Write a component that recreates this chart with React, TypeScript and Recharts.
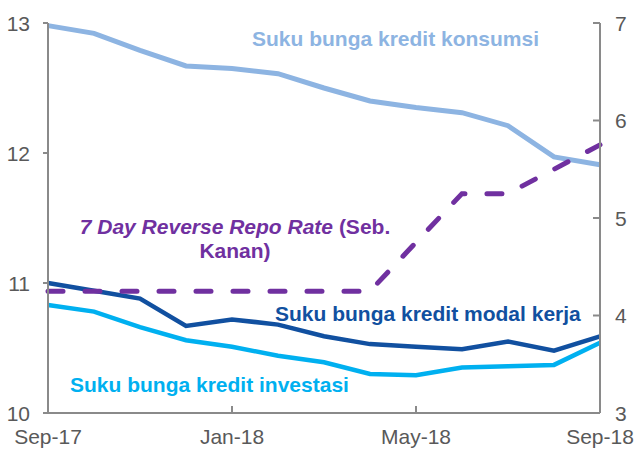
import React from "react";
import { LineChart, Line, XAxis, YAxis, Customized } from "recharts";

const months = [
  "Sep-17", "Oct-17", "Nov-17", "Dec-17", "Jan-18", "Feb-18", "Mar-18",
  "Apr-18", "May-18", "Jun-18", "Jul-18", "Aug-18", "Sep-18",
];
const konsumsi = [12.98, 12.92, 12.79, 12.67, 12.65, 12.61, 12.5, 12.4, 12.35, 12.31, 12.21, 11.97, 11.91];
const modalKerja = [11.0, 10.94, 10.88, 10.67, 10.72, 10.68, 10.59, 10.53, 10.51, 10.49, 10.55, 10.48, 10.59];
const investasi = [10.83, 10.78, 10.66, 10.56, 10.51, 10.44, 10.39, 10.3, 10.29, 10.35, 10.36, 10.37, 10.54];
const repo = [4.25, 4.25, 4.25, 4.25, 4.25, 4.25, 4.25, 4.25, 4.75, 5.25, 5.25, 5.5, 5.75];
const leftTicks = [10, 11, 12, 13];
const rightTicks = [3, 4, 5, 6, 7];

const data = months.map((m, i) => ({
  month: m,
  konsumsi: konsumsi[i],
  modalKerja: modalKerja[i],
  investasi: investasi[i],
  repo: repo[i],
}));

const FONT = "'Liberation Sans', Arial, sans-serif";
const AXIS = "#8a8a8a";
const TXT = "#595959";

const C_KONS = "#8db4e2";
const C_MODAL = "#1150a0";
const C_INV = "#00b0f0";
const C_REPO = "#7030a0";

const LeftTick = (p: any) => (
  <g>
    <line x1={p.x - 5} y1={p.y} x2={p.x} y2={p.y} stroke={AXIS} strokeWidth={2} />
    <text x={p.x - 18} y={p.y} dy="0.36em" textAnchor="end" fill={TXT} fontSize={21} fontFamily={FONT}>
      {p.payload.value}
    </text>
  </g>
);

const RightTick = (p: any) => (
  <g>
    <line x1={p.x - 7} y1={p.y} x2={p.x} y2={p.y} stroke={AXIS} strokeWidth={2} />
    <text x={p.x + 15} y={p.y} dy="0.36em" textAnchor="start" fill={TXT} fontSize={21} fontFamily={FONT}>
      {p.payload.value}
    </text>
  </g>
);

const BottomTick = (p: any) => (
  <g>
    <line x1={p.x} y1={p.y - 7} x2={p.x} y2={p.y} stroke={AXIS} strokeWidth={2} />
    <text x={p.x} y={p.y + 31} textAnchor="middle" fill={TXT} fontSize={21} fontFamily={FONT}>
      {p.payload.value}
    </text>
  </g>
);

const Labels = () => (
  <g fontFamily={FONT} fontSize={21} fontWeight="bold">
    <text x={252} y={46} fill={C_KONS}>Suku bunga kredit konsumsi</text>
    <text x={235} y={234} fill={C_REPO} textAnchor="middle">
      <tspan fontStyle="italic">7 Day Reverse Repo Rate</tspan>
      <tspan> (Seb.</tspan>
    </text>
    <text x={235} y={258} fill={C_REPO} textAnchor="middle">Kanan)</text>
    <text x={275} y={321} fill={C_MODAL}>Suku bunga kredit modal kerja</text>
    <text x={70} y={392} fill={C_INV}>Suku bunga kredit investasi</text>
  </g>
);

export default function App() {
  return (
    <div style={{ position: "absolute", left: 0, top: 0 }}>
      <LineChart width={634} height={451} data={data} margin={{ top: 23, right: 4, bottom: 0, left: 8 }}>
        <XAxis
          dataKey="month"
          interval={3}
          height={38}
          tickSize={0}
          tickMargin={0}
          tickLine={false}
          stroke={AXIS}
          strokeWidth={2}
          padding={{ left: 0, right: 0 }}
          tick={<BottomTick />}
        />
        <YAxis
          yAxisId="left"
          domain={[10, 13]}
          ticks={leftTicks}
          width={40}
          tickSize={0}
          tickMargin={0}
          tickLine={false}
          stroke={AXIS}
          strokeWidth={2}
          tick={<LeftTick />}
        />
        <YAxis
          yAxisId="right"
          orientation="right"
          domain={[3, 7]}
          ticks={rightTicks}
          width={30}
          tickSize={0}
          tickMargin={0}
          tickLine={false}
          stroke={AXIS}
          strokeWidth={2}
          tick={<RightTick />}
        />
        <Line yAxisId="left" type="linear" dataKey="konsumsi" stroke={C_KONS} strokeWidth={5} dot={false} isAnimationActive={false} />
        <Line yAxisId="left" type="linear" dataKey="investasi" stroke={C_INV} strokeWidth={4.5} dot={false} isAnimationActive={false} />
        <Line yAxisId="left" type="linear" dataKey="modalKerja" stroke={C_MODAL} strokeWidth={4.5} dot={false} isAnimationActive={false} />
        <Line
          yAxisId="right"
          type="linear"
          dataKey="repo"
          stroke={C_REPO}
          strokeWidth={5}
          strokeDasharray="15 22"
          strokeLinecap="round"
          dot={false}
          isAnimationActive={false}
        />
        <Customized component={Labels} />
      </LineChart>
    </div>
  );
}
